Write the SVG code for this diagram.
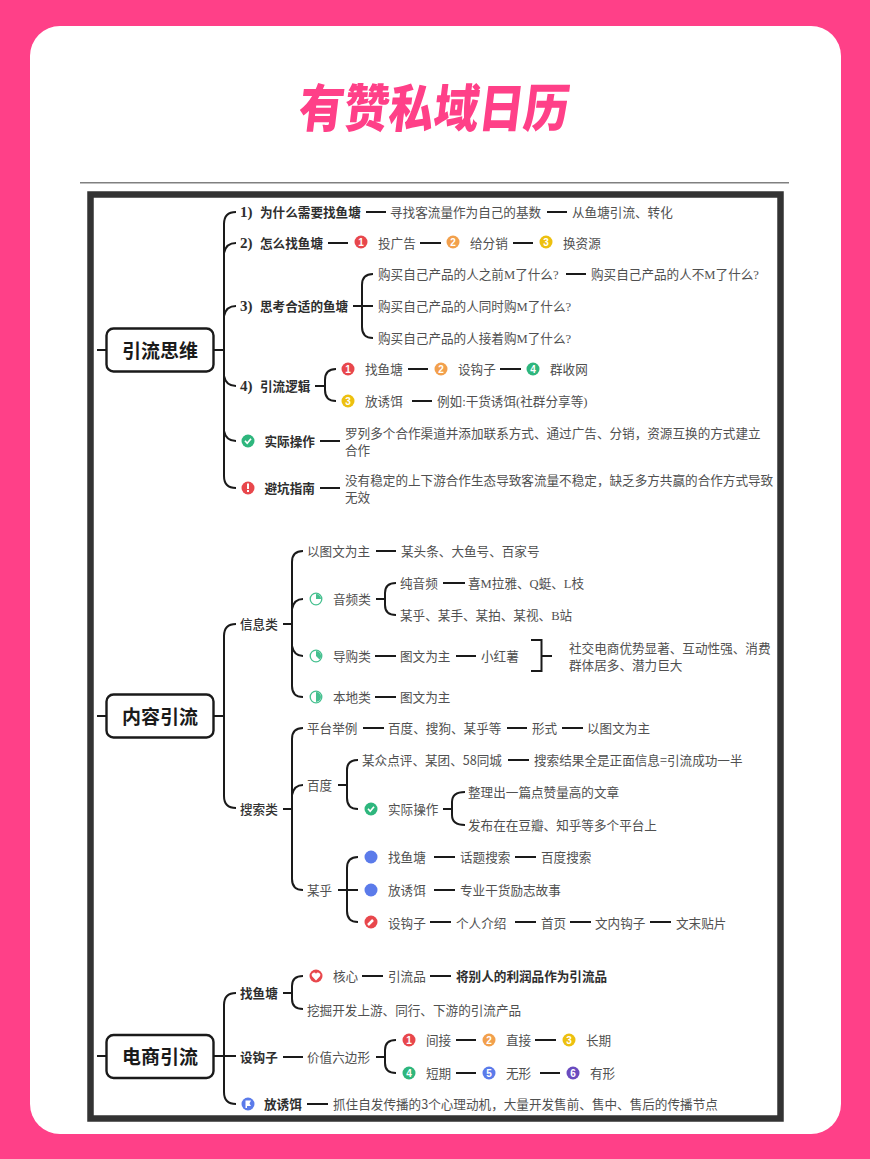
<svg xmlns="http://www.w3.org/2000/svg" width="870" height="1159" viewBox="0 0 870 1159">
<style>
text{font-family:"Liberation Serif","Noto Sans CJK SC",sans-serif;font-size:12.6px;fill:#505050}
.b{font-weight:700;fill:#2e2e2e}
.num{font-weight:700;font-size:15px;fill:#2e2e2e}
.m{font-weight:500;fill:#333}
.n{font-family:"Noto Sans CJK SC",sans-serif}
.root{font-family:"Noto Sans CJK SC",sans-serif;font-size:19px;font-weight:700;fill:#1a1a1a;text-anchor:middle}
.box{fill:#fff;stroke:#1a1a1a;stroke-width:2.4}
#connectors path{fill:none;stroke:#1a1a1a;stroke-width:2}
.i{font-family:"Liberation Sans",sans-serif;font-size:10px;font-weight:700;fill:#fff;text-anchor:middle}
.red{fill:#e8474c}.org{fill:#f2a04c}.yel{fill:#edc00f}.grn{fill:#2eb67d}.blu{fill:#5b7bea}.pur{fill:#6a4bbf}
</style>
<defs>
<symbol id="check" viewBox="-7 -7 14 14" overflow="visible"><circle r="6.5" class="grn"/><path d="M-3-.2-.8 2.2 3-2.2" fill="none" stroke="#fff" stroke-width="1.7"/></symbol>
</defs>
<rect width="870" height="1159" fill="#ff4088"/>
<rect x="30" y="26" width="811" height="1108" rx="30" fill="#fff"/>
<text transform="translate(432 127) skewX(-7) scale(1 1.14)" style="font-family:'Noto Sans CJK SC',sans-serif;font-size:45px;font-weight:900;fill:#ff4088;text-anchor:middle">有赞私域日历</text>
<rect x="80" y="182" width="709" height="1.5" fill="#808080"/>
<rect x="90.500" y="194.500" width="690" height="924" fill="#fff" stroke="#333" stroke-width="6.500"/>

<g id="connectors">
<path d="M97 350H106M214 350H224M236 212Q224 212 224 224V476Q224 488 236 488M236 243Q226 243 224 253M236 306Q226 306 224 316M236 386Q226 386 224 376M236 441Q226 441 224 431"/>
<path d="M366 212H386M547 212H567M328 243H348M420 243H441M513 243H533"/>
<path d="M353 306H373M373 274Q362 274 362 285V327Q362 338 373 338M566 274H586"/>
<path d="M315 386H325M336 369Q325 369 325 380V390Q325 401 336 401M408 369H428M500 369H521M412 401H432M320 441H340M320 488H340"/>
<path d="M97 716H106M214 716H224M236 624Q224 624 224 636V796Q224 808 236 808"/>
<path d="M283 624H292M303 551Q292 551 292 562V686Q292 697 303 697M303 599Q294 599 292 609M303 656Q294 656 292 646M376 551H396"/>
<path d="M376 599H385M396 583Q385 583 385 593V605Q385 615 396 615M443 583H465M375 656H396M456 656H476M531 640H541.500V671H531M541.500 656H552M375 697H396"/>
<path d="M283 809H292M303 728Q292 728 292 739V879Q292 890 303 890M303 785Q294 785 292 795M363 728H384M507 728H527M562 728H583"/>
<path d="M338 785H347M358 760Q347 760 347 770V798Q347 809 358 809M508 760H529M443 809H452M465 792Q452 792 452 802V815Q452 825 465 825"/>
<path d="M338 890H358M358 857Q347 857 347 868V911Q347 922 358 922M434 857H455M515 857H536M434 890H455M430 922H451M515 922H536M570 922H591M650 922H671"/>
<path d="M97 1056H106M214 1056H236M236 993Q224 993 224 1005V1092Q224 1104 236 1104"/>
<path d="M283 993H292M303 976Q292 976 292 986V999Q292 1009 303 1009M362 976H383M430 976H451"/>
<path d="M283 1057H303M376 1057H385M396 1040Q385 1040 385 1050V1063Q385 1073 396 1073M456 1040H476M535 1040H556M456 1073H476M540 1073H560M307 1104H328"/>
</g>

<g id="root1"><rect class="box" x="106.500" y="328.500" width="107" height="43" rx="7"/><text class="root" x="160" y="358">引流思维</text></g>
<g id="root2"><rect class="box" x="106.500" y="694.500" width="107" height="43" rx="7"/><text class="root" x="160" y="724">内容引流</text></g>
<g id="root3"><rect class="box" x="106.500" y="1035" width="107" height="43" rx="7"/><text class="root" x="160" y="1064">电商引流</text></g>

<g id="a1"><text class="num" x="240" y="217">1)</text><text class="b" x="260" y="216.500">为什么需要找鱼塘</text></g>
<g id="a1a"><text x="390" y="216.500">寻找客流量作为自己的基数</text></g>
<g id="a1b"><text x="572" y="216.500">从鱼塘引流、转化</text></g>
<g id="a2"><text class="num" x="240" y="248">2)</text><text class="b" x="260" y="247.500">怎么找鱼塘</text></g>
<g id="a2a"><circle cx="361" cy="242" r="6.500" class="red"/><text class="i" x="361" y="245.500">1</text><text x="378" y="247.500">投广告</text></g>
<g id="a2b"><circle cx="453" cy="242" r="6.500" class="org"/><text class="i" x="453" y="245.500">2</text><text x="470" y="247.500">给分销</text></g>
<g id="a2c"><circle cx="546" cy="242" r="6.500" class="yel"/><text class="i" x="546" y="245.500">3</text><text x="563" y="247.500">换资源</text></g>
<g id="a3"><text class="num" x="240" y="311">3)</text><text class="b" x="260" y="310.500">思考合适的鱼塘</text></g>
<g id="a3a"><text x="378" y="278.500">购买自己产品的人之前M了什么?</text></g>
<g id="a3a2"><text x="591" y="278.500">购买自己产品的人不M了什么?</text></g>
<g id="a3b"><text x="378" y="310.500">购买自己产品的人同时购M了什么?</text></g>
<g id="a3c"><text x="378" y="342.500">购买自己产品的人接着购M了什么?</text></g>
<g id="a4"><text class="num" x="240" y="391">4)</text><text class="b" x="260" y="390.500">引流逻辑</text></g>
<g id="a4a"><circle cx="348" cy="369" r="6.500" class="red"/><text class="i" x="348" y="372.500">1</text><text x="365" y="374">找鱼塘</text></g>
<g id="a4b"><circle cx="441" cy="369" r="6.500" class="org"/><text class="i" x="441" y="372.500">2</text><text x="458" y="374">设钩子</text></g>
<g id="a4c"><circle cx="533" cy="369" r="6.500" class="grn"/><text class="i" x="533" y="372.500">4</text><text x="550" y="374">群收网</text></g>
<g id="a4d"><circle cx="348" cy="401" r="6.500" class="yel"/><text class="i" x="348" y="404.500">3</text><text x="365" y="406">放诱饵</text></g>
<g id="a4e"><text x="437" y="406">例如:干货诱饵(社群分享等)</text></g>
<g id="a5"><use href="#check" x="241" y="434" width="14" height="14"/><text class="b" x="264.500" y="446">实际操作</text></g>
<g id="a5a"><text x="345" y="438">罗列多个合作渠道并添加联系方式、通过广告、分销，资源互换的方式建立</text><text x="345" y="454.500">合作</text></g>
<g id="a6"><circle cx="248" cy="488" r="6.500" class="red"/><rect x="247" y="483.500" width="2" height="5.500" fill="#fff"/><rect x="247" y="490" width="2" height="2" fill="#fff"/><text class="b" x="264.500" y="493">避坑指南</text></g>
<g id="a6a"><text x="345" y="485">没有稳定的上下游合作生态导致客流量不稳定，缺乏多方共赢的合作方式导致</text><text x="345" y="501.500">无效</text></g>

<g id="b1"><text class="m" x="240" y="628.500">信息类</text></g>
<g id="b1a"><text x="307" y="556">以图文为主</text></g>
<g id="b1a1"><text x="401" y="556">某头条、大鱼号、百家号</text></g>
<g id="b1b"><circle cx="316" cy="599" r="5.800" fill="#fff" stroke="#45c08f" stroke-width="1.300"/><path d="M316 599V594A5 5 0 0 1 321 599Z" fill="#45c08f"/><text x="333" y="604">音频类</text></g>
<g id="b1b1"><text x="400" y="587.500">纯音频</text></g>
<g id="b1b2"><text x="468" y="587.500">喜M拉雅、Q蜓、L枝</text></g>
<g id="b1b3"><text x="400" y="620">某乎、某手、某拍、某视、B站</text></g>
<g id="b1c"><circle cx="316" cy="656" r="5.800" fill="#fff" stroke="#45c08f" stroke-width="1.300"/><path d="M316 656V651A5 5 0 0 1 319.540 659.540Z" fill="#45c08f"/><text x="333" y="661">导购类</text></g>
<g id="b1c1"><text x="400" y="661">图文为主</text></g>
<g id="b1c2"><text x="481" y="661">小红薯</text></g>
<g id="b1c3"><text x="569" y="652.500">社交电商优势显著、互动性强、消费</text><text x="569" y="669.500">群体居多、潜力巨大</text></g>
<g id="b1d"><circle cx="316" cy="697" r="5.800" fill="#fff" stroke="#45c08f" stroke-width="1.300"/><path d="M316 692A5 5 0 0 1 316 702Z" fill="#45c08f"/><text x="333" y="701.500">本地类</text></g>
<g id="b1d1"><text x="400" y="701.500">图文为主</text></g>

<g id="b2"><text class="m" x="240" y="813.500">搜索类</text></g>
<g id="b2a"><text x="307" y="732.500">平台举例</text></g>
<g id="b2a1"><text x="388" y="732.500">百度、搜狗、某乎等</text></g>
<g id="b2a2"><text x="532" y="732.500">形式</text></g>
<g id="b2a3"><text x="587" y="732.500">以图文为主</text></g>
<g id="b2b"><text x="307" y="789.500">百度</text></g>
<g id="b2b1"><text x="362" y="764.500">某众点评、某团、<tspan class="n">58</tspan>同城</text></g>
<g id="b2b2"><text x="534" y="764.500">搜索结果全是正面信息<tspan class="n">=</tspan>引流成功一半</text></g>
<g id="b2b3"><use href="#check" x="364" y="802" width="14" height="14"/><text x="388" y="814">实际操作</text></g>
<g id="b2b4"><text x="468" y="796.500">整理出一篇点赞量高的文章</text></g>
<g id="b2b5"><text x="468" y="829.500">发布在在豆瓣、知乎等多个平台上</text></g>
<g id="b2c"><text x="307" y="895">某乎</text></g>
<g id="b2c1"><circle cx="371" cy="857" r="6.500" class="blu"/><text x="388" y="862">找鱼塘</text></g>
<g id="b2c2"><text x="460" y="862">话题搜索</text></g>
<g id="b2c3"><text x="541" y="862">百度搜索</text></g>
<g id="b2c4"><circle cx="371" cy="890" r="6.500" class="blu"/><text x="388" y="895">放诱饵</text></g>
<g id="b2c5"><text x="460" y="895">专业干货励志故事</text></g>
<g id="b2c6"><circle cx="371" cy="922" r="6.500" class="red"/><path d="M368 925L373 920" stroke="#fff" stroke-width="2.500"/><text x="388" y="927.500">设钩子</text></g>
<g id="b2c7"><text x="456" y="927.500">个人介绍</text></g>
<g id="b2c8"><text x="541" y="927.500">首页</text></g>
<g id="b2c9"><text x="595" y="927.500">文内钩子</text></g>
<g id="b2c10"><text x="676" y="927.500">文末贴片</text></g>

<g id="c1"><text class="b" x="240" y="998">找鱼塘</text></g>
<g id="c1a"><circle cx="316" cy="976" r="6.500" class="red"/><path d="M316 980.500L312 976.300A2.300 2.300 0 0 1 316 973.800A2.300 2.300 0 0 1 320 976.300Z" fill="#fff"/><text x="333" y="981">核心</text></g>
<g id="c1a1"><text x="388" y="981">引流品</text></g>
<g id="c1a2"><text class="b" x="456" y="981">将别人的利润品作为引流品</text></g>
<g id="c1b"><text x="307" y="1014.500">挖掘开发上游、同行、下游的引流产品</text></g>
<g id="c2"><text class="b" x="240" y="1062">设钩子</text></g>
<g id="c2a"><text x="307" y="1062">价值六边形</text></g>
<g id="c2b"><circle cx="409" cy="1040" r="6.500" class="red"/><text class="i" x="409" y="1043.500">1</text><text x="426" y="1045">间接</text></g>
<g id="c2c"><circle cx="489" cy="1040" r="6.500" class="org"/><text class="i" x="489" y="1043.500">2</text><text x="506" y="1045">直接</text></g>
<g id="c2d"><circle cx="569" cy="1040" r="6.500" class="yel"/><text class="i" x="569" y="1043.500">3</text><text x="586" y="1045">长期</text></g>
<g id="c2e"><circle cx="409" cy="1073" r="6.500" class="grn"/><text class="i" x="409" y="1076.500">4</text><text x="426" y="1077.500">短期</text></g>
<g id="c2f"><circle cx="489" cy="1073" r="6.500" class="blu"/><text class="i" x="489" y="1076.500">5</text><text x="506" y="1077.500">无形</text></g>
<g id="c2g"><circle cx="573" cy="1073" r="6.500" class="pur"/><text class="i" x="573" y="1076.500">6</text><text x="590" y="1077.500">有形</text></g>
<g id="c3"><circle cx="248" cy="1104" r="6.500" class="blu"/><path d="M245.500 1100.500H251L249.500 1103.500L251 1106H247V1108H245.500Z" fill="#fff"/><text class="b" x="264" y="1109">放诱饵</text></g>
<g id="c3a"><text x="333" y="1109">抓住自发传播的<tspan class="n">3</tspan>个心理动机，大量开发售前、售中、售后的传播节点</text></g>
</svg>
